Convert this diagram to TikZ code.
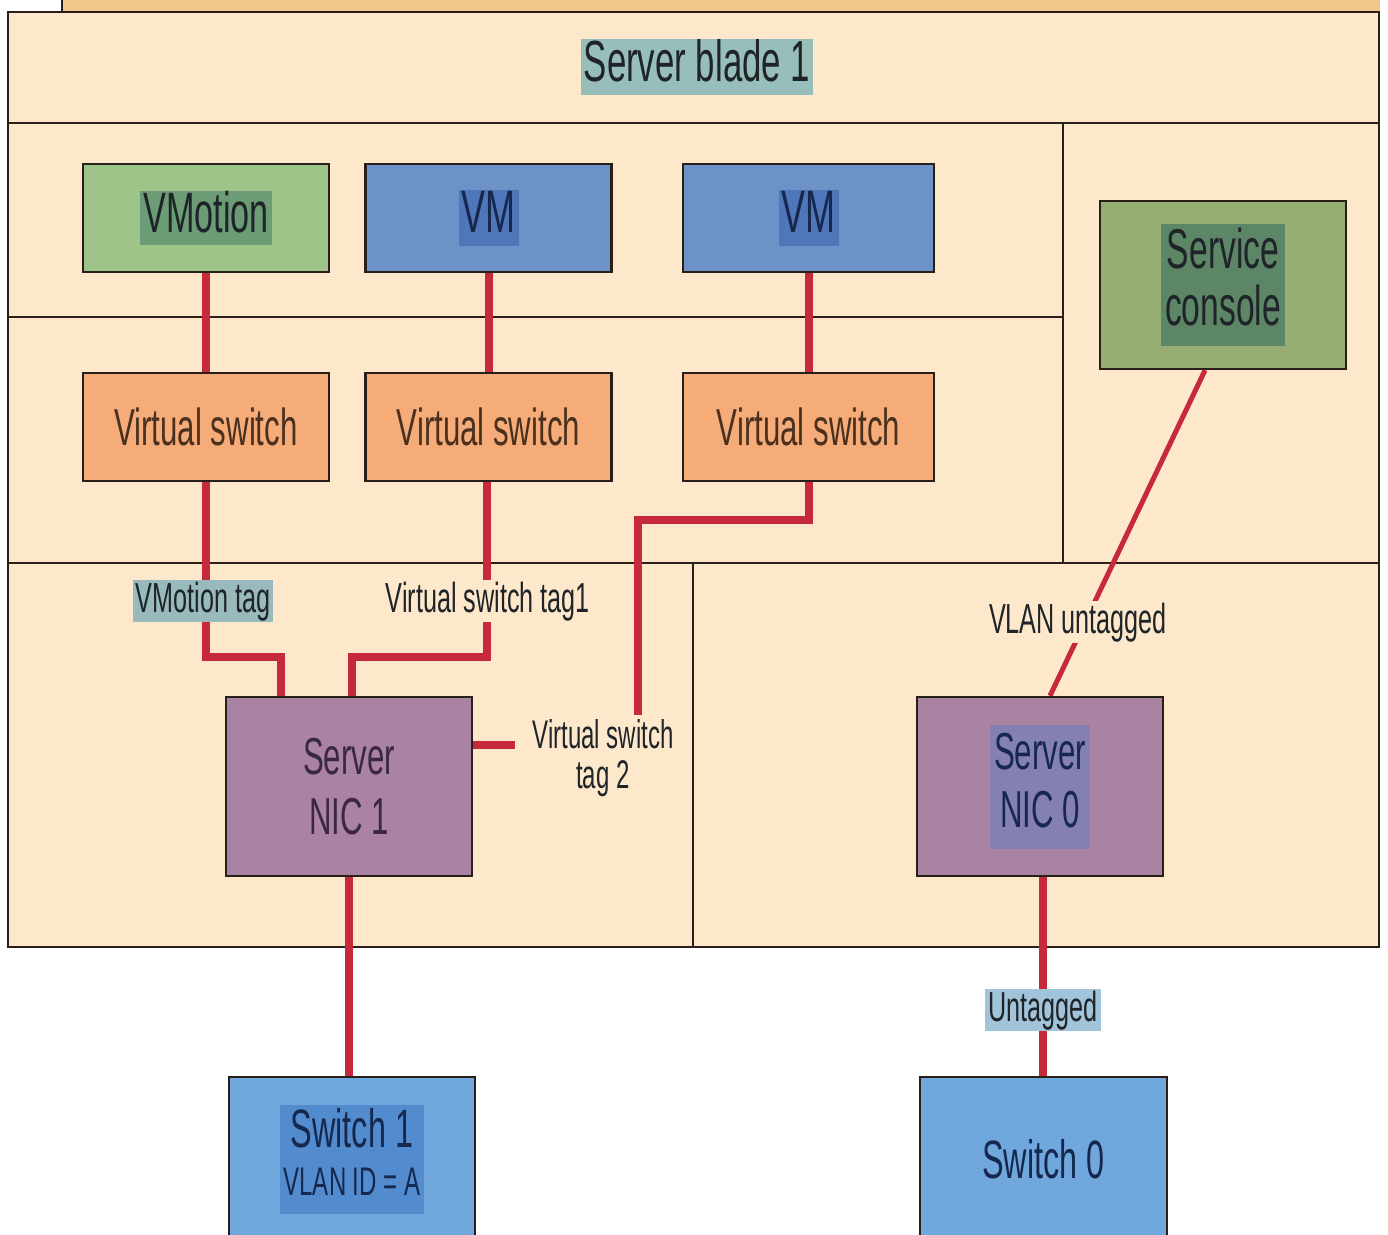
\documentclass[tikz,border=0pt]{standalone}
\usepackage{fontspec}
\setmainfont{Liberation Sans}[FakeStretch=0.6]
\usetikzlibrary{calc}

\definecolor{cream}{RGB}{253,232,203}
\definecolor{stripe}{RGB}{240,200,140}
\definecolor{edge}{RGB}{40,32,24}
\definecolor{wirered}{RGB}{198,40,60}
\definecolor{vmgreen}{RGB}{158,196,138}
\definecolor{vmgreenhl}{RGB}{108,156,118}
\definecolor{vmblue}{RGB}{108,146,200}
\definecolor{vmbluehl}{RGB}{78,118,184}
\definecolor{scgreen}{RGB}{150,174,114}
\definecolor{scgreenhl}{RGB}{92,134,102}
\definecolor{vsorange}{RGB}{246,172,120}
\definecolor{nicpurple}{RGB}{170,130,162}
\definecolor{nichl}{RGB}{132,128,178}
\definecolor{swblue}{RGB}{112,168,222}
\definecolor{swbluehl}{RGB}{82,140,206}
\definecolor{titlehl}{RGB}{152,190,186}
\definecolor{taghl}{RGB}{152,186,188}
\definecolor{untaghl}{RGB}{162,196,218}
\definecolor{ink}{RGB}{30,36,40}
\definecolor{brownink}{RGB}{74,48,30}
\definecolor{navyink}{RGB}{22,40,78}
\definecolor{plumink}{RGB}{58,40,66}

% highlighted single-line label
\newcommand\hlbox[2]{{\setlength{\fboxsep}{0pt}\colorbox{#1}{\kern3pt\rule[-0.23em]{0pt}{0.93em}#2\kern3pt}}}
% highlighted two-line label
\newcommand\hlpair[3]{{\setlength{\fboxsep}{4pt}\colorbox{#1}{\begin{tabular}{@{}c@{}}#2\\#3\end{tabular}}}}

\pgfdeclarelayer{bg}
\pgfdeclarelayer{wires}
\pgfsetlayers{bg,wires,main}

\begin{document}
\begin{tikzpicture}[x=1pt,y=-1pt,
  panel/.style={draw=edge,line width=2.5pt},
  box/.style={draw=edge,line width=2.5pt,rectangle,minimum width=246pt,
    minimum height=108pt,inner sep=0pt,text=ink},
  wire/.style={draw=wirered,line width=8pt},
  tag/.style={font=\fontsize{42}{40}\selectfont,text=ink,inner xsep=3pt,
    inner ysep=1pt,text height=31pt,text depth=9pt}
]
\useasboundingbox (0,0) rectangle (1388,1234);

% blade outline and its compartments
\begin{pgfonlayer}{bg}
\fill[white] (0,0) rectangle (1388,1234);
\fill[stripe] (62,0) rectangle (1380,11);
\fill[cream] (8,12) rectangle (1379,947);
\draw[panel] (62,0) -- (62,12);
\draw[panel] (8,12) rectangle (1379,947);
\draw[panel] (8,123) -- (1379,123);
\draw[panel] (8,317) -- (1063,317);
\draw[panel] (1063,123) -- (1063,563);
\draw[panel] (8,563) -- (1379,563);
\draw[panel] (693,563) -- (693,947);
\end{pgfonlayer}

\node[font=\fontsize{58}{60}\selectfont,text=ink,inner sep=0pt] (title) at (697,67)
  {\hlbox{titlehl}{Server blade 1}};

% upper row: workloads
\node[box,fill=vmgreen,font=\fontsize{57}{62}\selectfont] (vmotion) at (206,218)
  {\hlbox{vmgreenhl}{VMotion}};
\node[box,fill=vmblue,text=navyink,font=\fontsize{60}{62}\selectfont] (vma) at (488.5,218)
  {\hlbox{vmbluehl}{VM}};
\node[box,fill=vmblue,text=navyink,minimum width=251pt,font=\fontsize{60}{62}\selectfont] (vmb) at (808.5,218)
  {\hlbox{vmbluehl}{VM}};
\node[box,fill=scgreen,minimum height=168pt,font=\fontsize{56}{56}\selectfont] (console) at (1223,285)
  {\hlpair{scgreenhl}{Service}{console}};

% virtual switches
\node[box,fill=vsorange,text=brownink,font=\fontsize{52}{56}\selectfont] (vsa) at (206,427) {Virtual switch};
\node[box,fill=vsorange,text=brownink,font=\fontsize{52}{56}\selectfont] (vsb) at (488.5,427) {Virtual switch};
\node[box,fill=vsorange,text=brownink,minimum width=251pt,font=\fontsize{52}{56}\selectfont] (vsc) at (808.5,427) {Virtual switch};

% physical NICs
\node[box,fill=nicpurple,minimum height=179pt,text=plumink,align=center,
  font=\fontsize{52}{60}\selectfont] (nica) at (349,786.5) {Server\\NIC 1};
\node[box,fill=nicpurple,minimum height=179pt,text=navyink,
  font=\fontsize{52}{58}\selectfont] (nicz) at (1040,786.5) {\hlpair{nichl}{Server}{NIC 0}};

% physical switches
\node[box,fill=swblue,minimum height=165pt,text=navyink,font=\fontsize{54}{48}\selectfont] (swa) at (352,1159.5)
  {\hlpair{swbluehl}{Switch 1}{\fontsize{40}{40}\selectfont VLAN ID = A}};
\node[box,fill=swblue,minimum height=165pt,text=navyink,minimum width=247pt,
  font=\fontsize{54}{58}\selectfont] (swz) at (1043.5,1159.5) {Switch 0};

% link labels
\node[tag,fill=taghl] (vmtag) at (203,601) {VMotion tag};
\node[tag,fill=cream] (vstaga) at (488,601) {Virtual switch tag1};
\node[font=\fontsize{40}{40}\selectfont,text=ink,align=center,inner sep=0pt] (vstagb) at (603,758)
  {Virtual switch\\tag 2};
\node[tag,fill=cream] (vlantag) at (1078,622) {VLAN untagged};
\node[tag,fill=untaghl] (untag) at (1043,1010) {Untagged};

\coordinate (ja) at (281,657);
\coordinate (jb) at (352,657);
\coordinate (jc) at (638,520);
\coordinate (ec) at (638,715);
\coordinate (stub) at (515,745);

% links
\begin{pgfonlayer}{wires}
\draw[wire] (vmotion.south) -- (vsa.north);
\draw[wire] (vma.south) -- (vsb.north);
\draw[wire] (vmb.south) -- (vsc.north);
\draw[wire] (vsa.south) |- (ja) -- (ja |- nica.north);
\draw[wire] ([xshift=-1.5pt]vsb.south) |- (jb) -- (jb |- nica.north);
\draw[wire] (vsc.south) |- (jc) -- (ec);
\draw[wire] (nica.east |- stub) -- (stub);
\draw[wire,line width=5pt] ([xshift=-18pt]console.south) -- ([xshift=10pt]nicz.north);
\draw[wire] (nica.south) -- (nica.south |- swa.north);
\draw[wire] (nicz.south -| untag) -- (untag |- swz.north);
\end{pgfonlayer}
\end{tikzpicture}
\end{document}
